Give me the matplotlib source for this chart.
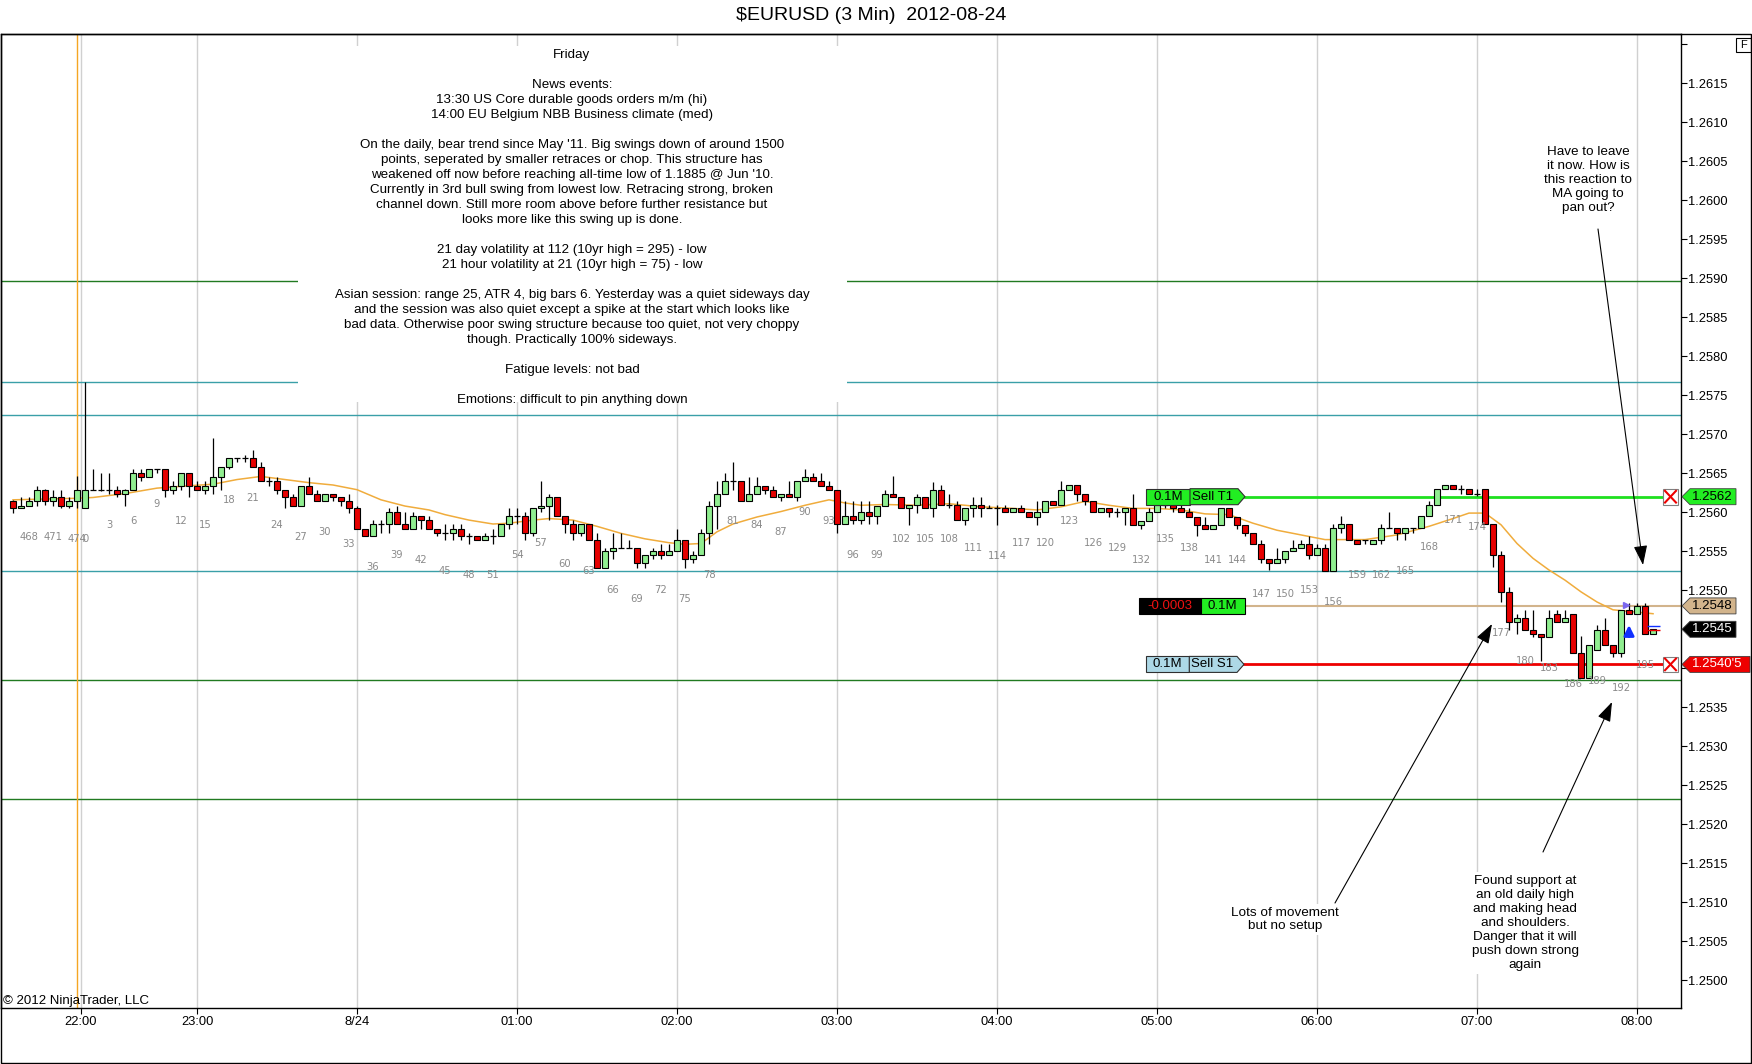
import numpy as np
import matplotlib
matplotlib.use('Agg')
import matplotlib.pyplot as plt
from matplotlib.patches import Rectangle, Polygon
from matplotlib.lines import Line2D
from matplotlib import transforms

plt.rcParams['font.family'] = ['Liberation Sans', 'DejaVu Sans']

BASE = 1.2500
PIP = 0.0001

# bar index of the first candle (bars of previous session are negative)
first_bar = -9
session_len = 475

# prices in pips above 1.2500, bars -9 .. 196
opens = [61.4, 60.5, 60.8, 61.4, 62.9, 61.4, 61.9, 60.8, 61.4, 60.5,
         62.9, 62.9, 62.9, 62.9, 62.4, 62.9, 65.0, 64.5, 65.5, 65.5,
         62.9, 63.4, 65.0, 63.4, 62.9, 63.4, 64.5, 65.8, 66.9, 66.9,
         66.9, 65.8, 64.0, 64.0, 62.9, 61.9, 60.8, 63.4, 62.4, 61.4,
         62.4, 61.9, 61.4, 60.5, 57.9, 56.9, 58.5, 58.5, 60.0, 58.5,
         57.9, 59.5, 59.0, 57.9, 57.4, 57.4, 57.9, 56.9, 56.9, 56.4,
         56.9, 56.9, 58.5, 59.5, 59.5, 57.4, 60.5, 60.8, 61.9, 59.5,
         58.5, 57.4, 58.5, 56.4, 52.9, 55.0, 55.4, 55.4, 55.4, 53.5,
         54.5, 55.0, 54.5, 55.0, 56.4, 54.0, 54.5, 57.4, 60.8, 62.4,
         64.0, 64.0, 61.4, 62.4, 63.4, 62.9, 61.9, 62.4, 61.9, 64.0,
         64.5, 64.0, 63.4, 62.9, 58.5, 59.5, 59.0, 60.0, 59.5, 60.8,
         62.4, 61.9, 60.5, 60.9, 61.9, 60.5, 62.9, 60.9, 60.9, 59.0,
         60.5, 60.9, 60.5, 60.5, 60.5, 60.0, 60.5, 60.0, 59.4, 60.0,
         61.4, 60.9, 62.9, 63.5, 62.4, 61.4, 60.0, 60.5, 60.0, 60.0,
         60.5, 58.4, 58.9, 60.0, 60.9, 60.9, 60.5, 60.0, 59.4, 58.4,
         57.9, 58.4, 60.5, 59.4, 58.4, 57.4, 55.9, 54.0, 53.5, 54.0,
         55.0, 55.4, 55.9, 54.5, 55.4, 52.5, 58.0, 58.5, 56.5, 56.5,
         55.9, 56.5, 58.0, 58.0, 57.4, 58.0, 58.0, 59.5, 60.9, 63.0,
         63.5, 63.0, 63.0, 62.4, 63.0, 58.5, 54.5, 49.8, 45.9, 46.4,
         44.9, 44.4, 44.0, 47.0, 45.9, 47.0, 41.9, 38.8, 42.4, 44.9,
         43.0, 41.9, 47.5, 47.0, 48.0, 44.4]
highs = [61.6, 61.9, 61.9, 63.4, 63.0, 62.9, 62.9, 61.9, 64.6, 76.7,
         65.5, 65.0, 65.0, 63.4, 63.0, 65.5, 65.5, 65.5, 65.5, 65.5,
         64.0, 65.0, 65.0, 64.0, 64.0, 69.5, 65.8, 66.9, 66.9, 67.4,
         68.0, 66.4, 64.5, 64.5, 62.9, 62.4, 63.4, 64.5, 62.9, 62.4,
         62.4, 61.9, 62.4, 60.8, 57.9, 59.0, 59.0, 60.5, 60.8, 60.0,
         60.0, 59.5, 59.5, 57.9, 58.5, 58.5, 58.5, 57.4, 56.9, 57.4,
         57.9, 58.5, 60.5, 60.5, 60.0, 60.5, 64.0, 62.4, 61.9, 59.5,
         59.0, 58.5, 58.5, 57.4, 55.4, 57.4, 57.4, 56.4, 55.4, 54.5,
         55.4, 55.9, 55.9, 57.9, 56.4, 55.0, 57.9, 61.4, 64.0, 65.0,
         66.5, 64.0, 64.5, 64.5, 63.4, 63.4, 62.4, 64.0, 64.0, 65.5,
         65.0, 65.0, 64.0, 62.9, 61.4, 61.4, 61.4, 61.4, 60.8, 62.9,
         64.6, 61.9, 60.9, 62.4, 61.9, 63.9, 63.5, 62.4, 61.4, 60.5,
         61.9, 61.9, 60.9, 60.9, 60.9, 60.5, 60.9, 60.0, 61.4, 61.4,
         61.4, 64.0, 63.5, 63.5, 62.4, 61.4, 60.5, 60.5, 60.5, 60.5,
         62.4, 58.9, 60.5, 61.4, 61.4, 60.9, 60.9, 60.5, 59.4, 59.4,
         58.4, 60.5, 60.5, 59.4, 58.4, 57.4, 56.4, 54.0, 55.4, 55.0,
         56.4, 56.4, 56.9, 55.9, 55.9, 58.5, 59.5, 58.5, 56.5, 56.5,
         56.5, 58.5, 60.1, 58.0, 58.0, 58.0, 59.5, 61.4, 63.0, 63.5,
         63.5, 63.5, 63.0, 63.0, 63.0, 58.5, 55.1, 50.4, 47.0, 47.5,
         47.5, 44.4, 47.5, 47.5, 47.5, 47.0, 44.1, 43.0, 45.6, 46.4,
         43.0, 47.5, 48.4, 48.4, 48.4, 45.0]
lows = [59.9, 60.5, 60.8, 60.8, 61.0, 60.8, 60.5, 60.5, 60.5, 60.5,
        62.9, 62.7, 62.4, 61.9, 60.8, 62.9, 64.0, 64.5, 65.0, 61.9,
        62.4, 62.9, 61.9, 62.9, 62.4, 62.4, 62.9, 65.5, 66.5, 66.5,
        65.8, 64.0, 63.4, 62.4, 60.5, 60.8, 60.8, 62.4, 61.4, 61.4,
        61.4, 60.8, 59.9, 57.9, 56.9, 56.9, 57.4, 57.4, 58.5, 57.9,
        57.9, 57.9, 57.9, 56.9, 56.4, 56.4, 56.4, 55.9, 56.4, 56.4,
        55.9, 56.9, 57.9, 58.5, 56.4, 56.9, 60.0, 59.0, 59.5, 57.4,
        56.4, 56.9, 56.4, 52.9, 52.9, 54.0, 55.4, 55.4, 52.9, 52.9,
        54.0, 54.0, 54.5, 55.0, 52.9, 53.5, 54.5, 55.9, 57.9, 62.4,
        62.9, 61.4, 61.4, 62.4, 62.4, 61.9, 61.4, 61.9, 61.4, 64.0,
        64.0, 63.4, 62.9, 57.4, 58.5, 58.5, 58.5, 58.5, 58.5, 60.8,
        61.9, 60.5, 58.4, 59.9, 60.5, 59.4, 60.9, 60.5, 59.0, 58.4,
        59.4, 59.4, 60.5, 58.4, 60.0, 60.0, 60.0, 59.4, 58.4, 60.0,
        60.9, 60.9, 62.9, 61.4, 60.9, 60.0, 60.0, 59.4, 59.4, 58.4,
        58.4, 57.9, 58.9, 60.0, 60.5, 60.0, 60.0, 59.4, 56.9, 57.9,
        57.9, 58.4, 59.4, 57.9, 56.9, 55.9, 53.5, 52.6, 53.5, 53.5,
        55.0, 55.4, 54.0, 54.5, 52.5, 52.5, 57.4, 56.5, 55.9, 55.9,
        55.9, 55.9, 58.0, 56.5, 56.5, 57.4, 58.0, 59.5, 60.9, 63.0,
        63.0, 62.4, 62.4, 62.1, 58.5, 53.0, 48.5, 44.9, 44.4, 44.9,
        44.0, 40.9, 44.0, 45.9, 45.9, 41.9, 38.8, 38.8, 42.4, 43.0,
        41.5, 41.5, 46.9, 47.0, 44.4, 44.4]
closes = [60.5, 60.8, 61.4, 62.9, 61.4, 61.9, 60.8, 61.4, 62.9, 62.9,
          62.9, 62.9, 62.9, 62.4, 62.9, 65.0, 64.5, 65.5, 65.5, 62.9,
          63.4, 65.0, 63.4, 62.9, 63.4, 64.5, 65.8, 66.9, 66.9, 66.9,
          65.8, 64.0, 64.0, 62.9, 61.9, 60.8, 63.4, 62.4, 61.4, 62.4,
          61.9, 61.4, 60.5, 57.9, 56.9, 58.5, 58.5, 60.0, 58.5, 57.9,
          59.5, 59.0, 57.9, 57.4, 57.4, 57.9, 56.9, 56.9, 56.4, 56.9,
          56.9, 58.5, 59.5, 59.5, 57.4, 60.5, 60.8, 61.9, 59.5, 58.5,
          57.4, 58.5, 56.4, 52.9, 55.0, 55.4, 55.4, 55.4, 53.5, 54.5,
          55.0, 54.5, 55.0, 56.4, 54.0, 54.5, 57.4, 60.8, 62.4, 64.0,
          64.0, 61.4, 62.4, 63.4, 62.9, 61.9, 62.4, 61.9, 64.0, 64.5,
          64.0, 63.4, 62.9, 58.5, 59.5, 59.0, 60.0, 59.5, 60.8, 62.4,
          61.9, 60.5, 60.9, 61.9, 60.5, 62.9, 60.9, 60.9, 59.0, 60.5,
          60.9, 60.5, 60.5, 60.5, 60.0, 60.5, 60.0, 59.4, 60.0, 61.4,
          60.9, 62.9, 63.5, 62.4, 61.4, 60.0, 60.5, 60.0, 60.0, 60.5,
          58.4, 58.9, 60.0, 60.9, 60.9, 60.5, 60.0, 59.4, 58.4, 57.9,
          58.4, 60.5, 59.4, 58.4, 57.4, 55.9, 54.0, 53.5, 54.0, 55.0,
          55.4, 55.9, 54.5, 55.4, 52.5, 58.0, 58.5, 56.5, 55.9, 56.5,
          56.5, 58.0, 58.0, 57.4, 58.0, 58.0, 59.5, 60.9, 63.0, 63.5,
          63.0, 63.0, 62.4, 62.4, 58.5, 54.5, 49.8, 45.9, 46.4, 44.9,
          44.4, 44.0, 46.4, 45.9, 46.4, 41.9, 38.8, 43.0, 44.9, 43.0,
          41.9, 47.5, 47.0, 48.0, 44.4, 45.0]

# moving average (bar, pips)
ma_bars = [-9, -5, -1, 1, 5, 9, 13, 16, 19, 22, 25, 28, 31, 34, 37, 40, 43, 45,
           48, 51, 53, 56, 58, 61, 64, 67, 70, 73, 75, 77, 79, 81, 84, 87, 90,
           93, 95, 97, 100, 104, 108, 112, 116, 119, 122, 125, 128, 131, 134,
           137, 140, 143, 146, 149, 152, 155, 160, 164, 168, 171, 173, 175,
           177, 179, 181, 183, 185, 187, 189, 191, 193, 196]
ma_vals = [61.6, 61.7, 61.8, 61.9, 62.4, 63.1, 63.4, 63.6, 64.2, 64.6, 64.2,
           63.8, 63.5, 62.9, 61.6, 60.8, 60.3, 59.7, 59.0, 58.5, 58.6, 59.0,
           59.2, 59.0, 58.2, 57.3, 56.6, 56.1, 55.9, 56.0, 57.5, 58.5, 59.4,
           60.1, 60.9, 61.6, 61.2, 60.9, 61.0, 60.9, 61.1, 60.7, 60.5, 60.3,
           60.7, 61.4, 60.9, 60.5, 60.5, 60.3, 59.8, 59.7, 58.6, 57.7, 57.1,
           56.5, 56.5, 57.1, 58.2, 59.2, 59.9, 59.9, 58.4, 56.0, 54.1, 52.6,
           51.3, 49.8, 48.5, 47.5, 47.3, 47.0]

hour_pos = [-0.5, 14, 34, 54, 74, 94, 114, 134, 154, 174, 194]
hour_labels = ['22:00', '23:00', '8/24', '01:00', '02:00', '03:00', '04:00',
               '05:00', '06:00', '07:00', '08:00']
session_break = -1

green_levels = [89.7, 38.5, 23.3]
teal_levels = [76.7, 72.5, 52.5]
target_level = 62.0
entry_level = 48.0
stop_level = 40.5
last_level = 45.0

notes = ["Friday", "", "News events:",
         "13:30 US Core durable goods orders m/m (hi)",
         "14:00 EU Belgium NBB Business climate (med)", "",
         "On the daily, bear trend since May '11. Big swings down of around 1500",
         "points, seperated by smaller retraces or chop. This structure has",
         "weakened off now before reaching all-time low of 1.1885 @ Jun '10.",
         "Currently in 3rd bull swing from lowest low. Retracing strong, broken",
         "channel down. Still more room above before further resistance but",
         "looks more like this swing up is done.", "",
         "21 day volatility at 112 (10yr high = 295) - low",
         "21 hour volatility at 21 (10yr high = 75) - low", "",
         "Asian session: range 25, ATR 4, big bars 6. Yesterday was a quiet sideways day",
         "and the session was also quiet except a spike at the start which looks like",
         "bad data. Otherwise poor swing structure because too quiet, not very choppy",
         "though. Practically 100% sideways.", "",
         "Fatigue levels: not bad", "",
         "Emotions: difficult to pin anything down"]

note1 = "Have to leave\nit now. How is\nthis reaction to\nMA going to\npan out?"
note2 = "Lots of movement\nbut no setup"
note3 = ("Found support at\nan old daily high\nand making head\nand shoulders.\n"
         "Danger that it will\npush down strong\nagain")

# ---- figure layout (pixels of the 1752x1064 picture)
FW, FH = 1752, 1064
AX_L, AX_R, AX_T, AX_B = 1, 1680.7, 34, 1008
fig = plt.figure(figsize=(FW / 100, FH / 100), dpi=100)
ax = fig.add_axes([AX_L / FW, 1 - AX_B / FH, (AX_R - AX_L) / FW, (AX_B - AX_T) / FH])

def px(p):
    return BASE + np.asarray(p) * PIP

o = px(opens); h = px(highs); l = px(lows); c = px(closes)
bars = np.arange(first_bar, first_bar + len(opens))

ax.set_xlim(-10.5, 199.46)
ax.set_ylim(px(-3.55), px(121.32))

UP = '#90ee90'
DOWN = '#e60000'
w = 0.72
for i, oo, hh, ll, cc in zip(bars, o, h, l, c):
    ax.vlines(i, ll, hh, color='black', lw=0.9, zorder=4)
    if cc > oo:
        ax.add_patch(Rectangle((i - w / 2, oo), w, cc - oo, fc=UP, ec='black', lw=0.8, zorder=5))
    elif cc < oo:
        ax.add_patch(Rectangle((i - w / 2, cc), w, oo - cc, fc=DOWN, ec='black', lw=0.8, zorder=5))
    else:
        ax.hlines(oo, i - w / 2, i + w / 2, color='black', lw=0.9, zorder=5)
    num = i if i >= 0 else session_len + i
    if num % 3 == 0:
        ax.annotate(str(num), (i, ll), xytext=(0, -31), textcoords='offset pixels',
                    ha='center', va='center', fontsize=7.2, color='#8a8a8a',
                    family='DejaVu Sans', zorder=6)

ax.plot(ma_bars, px(ma_vals), color='#f0ac3c', lw=1.1, zorder=3)
ax.axvline(session_break, color='#f5a623', lw=1.0, zorder=2)

for lv in green_levels:
    ax.axhline(px(lv), color='#217a21', lw=1, zorder=1)
for lv in teal_levels:
    ax.axhline(px(lv), color='#3a9fa8', lw=1, zorder=1)

def axf(xp):
    return (xp - AX_L) / (AX_R - AX_L)

ax.axhline(px(target_level), axf(1245), axf(1662), color='#1ee01e', lw=2, zorder=2)
ax.axhline(px(stop_level), axf(1244), axf(1662), color='#ee0000', lw=2, zorder=2)
ax.axhline(px(entry_level), axf(1245), 1, color='#d2b48c', lw=1.5, zorder=2)

# markers on the last bars
ax.annotate('', xy=(193, px(45.9)), xytext=(193, px(43.7)),
            arrowprops=dict(arrowstyle='-|>,head_width=0.3,head_length=0.6',
                            color='#1030ff', lw=2, mutation_scale=10), zorder=6)
ax.plot([192.6], [px(48.1)], marker='>', ms=5, color='#7b68ee', zorder=6)
ax.hlines(px(45.45), 195.3, 196.9, color='#1030ff', lw=1, zorder=6)
ax.hlines(px(44.95), 195.3, 196.9, color='#ee0000', lw=1, zorder=6)

# axes
ax.set_xticks(hour_pos)
ax.set_xticklabels(hour_labels)
ax.grid(axis='x', color='#d0d0d0', lw=1)
ax.set_axisbelow(True)
yt = np.arange(0, 121, 5)
# labels at 1.2620 (top) and under the price tags at 1.2540 / 1.2545 are not shown
hidden = {120, 40, 45}
ax.set_yticks(px(yt))
ax.set_yticklabels(['' if v in hidden else f'{px(v):.4f}' for v in yt])
ax.yaxis.tick_right()
ax.tick_params(axis='y', direction='out', length=4.3, width=0.8, pad=1, labelsize=9.3)
ax.tick_params(axis='x', direction='out', length=4.3, width=0.8, pad=1.5, labelsize=9.3)
for s in ax.spines.values():
    s.set_color('black'); s.set_linewidth(1)

def fx(xp):
    return xp / FW

def fy(yp):
    return 1 - yp / FH

# outer frame
fig.add_artist(Rectangle((0.0003, 0.0005), 0.9994, fy(AX_T) - 0.0005, transform=fig.transFigure,
                         fill=False, ec='black', lw=1))
fig.text(fx(871), fy(16), '$EURUSD (3 Min)  2012-08-24', ha='center', va='center', fontsize=14)
fig.add_artist(Rectangle((fx(1736), fy(51.7)), fx(15), 14 / FH, transform=fig.transFigure,
                         fill=False, ec='black', lw=0.8))
fig.text(fx(1743.5), fy(44.7), 'F', ha='center', va='center', fontsize=8)
fig.text(fx(3), fy(1001), '\u00a9 2012 NinjaTrader, LLC', ha='left', va='center', fontsize=9.5)

# notes box
fig.add_artist(Rectangle((fx(298), fy(402)), fx(549), (402 - 46) / FH, transform=fig.transFigure,
                         fc='white', ec='none', zorder=1.5))
for k, line in enumerate(notes):
    fig.text(fx(572), fy(55 + 15 * k), line, ha='center', va='center', fontsize=9.6, zorder=3)

bbox = dict(fc='white', ec='none', pad=2)
fig.text(fx(1588), fy(180), note1, ha='center', va='center', fontsize=9.7, linespacing=1.22, bbox=bbox)
fig.text(fx(1285), fy(919.5), note2, ha='center', va='center', fontsize=9.7, linespacing=1.22, bbox=bbox)
fig.text(fx(1525), fy(923), note3, ha='center', va='center', fontsize=9.7, linespacing=1.22, bbox=bbox)

arrow = dict(arrowstyle='-|>,head_width=0.35,head_length=1.0', color='black', lw=0.8,
             mutation_scale=12, shrinkA=0, shrinkB=0)
for (x0, y0), (x1, y1) in [((1598, 229), (1643, 565)), ((1335, 903), (1492, 624)),
                           ((1543, 852), (1612, 702))]:
    fig.add_artist(matplotlib.text.Annotation('', xy=(x1, FH - y1), xytext=(x0, FH - y0),
                   xycoords='figure pixels', textcoords='figure pixels', arrowprops=arrow))

# order boxes and price tags
blend = transforms.blended_transform_factory(fig.transFigure, ax.transData)
hh = 8 * PIP / 7.8

def order_box(level, x0, xd, x1, xt, fc1, fc2, t1, t2, tc1='black'):
    fig.add_artist(Rectangle((fx(x0), px(level) - hh), fx(xd - x0), 2 * hh, transform=blend,
                             fc=fc1, ec='#303030', lw=0.8, zorder=4))
    fig.add_artist(Polygon([(fx(xd), px(level) - hh), (fx(x1), px(level) - hh), (fx(xt), px(level)),
                            (fx(x1), px(level) + hh), (fx(xd), px(level) + hh)], closed=True,
                           transform=blend, fc=fc2, ec='#303030', lw=0.8, zorder=4))
    fig.text(fx((x0 + xd) / 2), px(level), t1, transform=blend, ha='center', va='center',
             fontsize=9.5, color=tc1, zorder=5)
    fig.text(fx(xd + 2), px(level), t2, transform=blend, ha='left', va='center',
             fontsize=9.5, zorder=5)

order_box(target_level, 1145.7, 1190, 1238, 1245, '#22ee22', '#22ee22', '0.1M', 'Sell T1')
order_box(stop_level, 1145.7, 1189.3, 1237, 1244, '#add8e6', '#add8e6', '0.1M', 'Sell S1')
fig.add_artist(Rectangle((fx(1139.3), px(entry_level) - hh), fx(61.4), 2 * hh, transform=blend,
                         fc='black', ec='black', lw=0.8, zorder=4))
fig.add_artist(Rectangle((fx(1200.7), px(entry_level) - hh), fx(44.3), 2 * hh, transform=blend,
                         fc='#22ee22', ec='black', lw=0.8, zorder=4))
fig.text(fx(1170), px(entry_level), '-0.0003', transform=blend, ha='center', va='center',
         fontsize=9.5, color='#ee1111', zorder=5)
fig.text(fx(1222.8), px(entry_level), '0.1M', transform=blend, ha='center', va='center',
         fontsize=9.5, zorder=5)

def xbox(level):
    s = 7.8 * PIP / 7.8
    fig.add_artist(Rectangle((fx(1662.7), px(level) - s), fx(15.6), 2 * s, transform=blend,
                             fc='white', ec='#808080', lw=0.8, zorder=4))
    for a, b in [((1665, -0.75), (1676, 0.75)), ((1665, 0.75), (1676, -0.75))]:
        fig.add_artist(Line2D([fx(a[0]), fx(b[0])], [px(level) + a[1] * s, px(level) + b[1] * s],
                              transform=blend, color='#ee0000', lw=1.5, zorder=5))

xbox(target_level)
xbox(stop_level)

def tag(level, text, fc, tc, x_r):
    y = px(level)
    fig.add_artist(Polygon([(fx(1682), y), (fx(1690), y + hh), (fx(x_r), y + hh),
                            (fx(x_r), y - hh), (fx(1690), y - hh)], closed=True,
                           transform=blend, fc=fc, ec='#404040', lw=0.6, zorder=4))
    fig.text(fx(1691.5), y, text, transform=blend, ha='left', va='center', fontsize=9.5,
             color=tc, zorder=5)

tag(target_level, f'{px(target_level):.4f}', '#22ee22', 'black', 1736)
tag(entry_level, f'{px(entry_level):.4f}', '#d2b48c', 'black', 1736)
tag(last_level, f'{px(last_level):.4f}', 'black', 'white', 1736)
tag(stop_level, "1.2540'5", '#ee0000', 'white', 1750)

fig.savefig('out.png', dpi=100)
